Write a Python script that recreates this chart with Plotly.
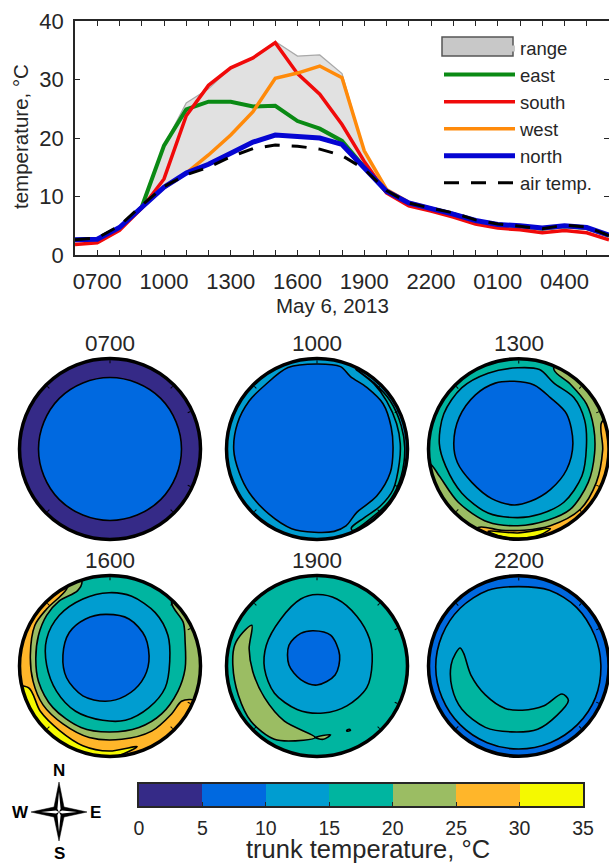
import numpy as np
import plotly.graph_objects as go

W, H = 609, 865

# ---------- time series (deg C), hourly from 0600 ----------
hours = list(range(6, 31))
east  = [2.6,2.7,4.6,8.2,18.7,24.9,26.2,26.2,25.4,25.5,22.9,21.6,19.5,15.0,10.8,8.8,7.9,7.0,5.8,5.2,4.9,4.5,4.9,4.6,3.3]
south = [1.8,2.1,4.2,8.0,13.0,23.8,29.0,32.0,33.7,36.3,31.0,27.5,22.3,16.0,10.6,8.4,7.5,6.5,5.3,4.6,4.3,3.8,4.2,3.8,2.6]
west  = [2.5,2.7,4.6,8.2,11.5,14.0,17.1,20.5,24.5,30.2,31.1,32.3,30.3,17.8,11.2,9.0,8.0,7.0,5.8,5.2,4.9,4.5,4.9,4.6,3.3]
north = [2.6,2.7,4.7,8.2,11.6,14.0,15.5,17.4,19.3,20.5,20.3,20.0,18.9,15.0,10.9,8.9,8.0,7.0,5.9,5.2,5.0,4.6,5.0,4.7,3.4]
air   = [2.6,2.9,5.0,8.5,11.7,13.7,15.0,16.8,18.2,18.8,18.6,18.1,17.0,14.7,11.0,8.9,8.0,7.2,6.0,5.3,4.9,4.5,5.1,4.8,3.3]
upper = [2.6,2.7,4.7,8.2,18.7,26.0,28.4,32.0,33.7,36.5,34.0,34.2,31.0,17.8,11.2,9.0,8.0,7.2,6.0,5.3,5.0,4.6,5.1,4.8,3.4]
hour_labels = {7:"0700",10:"1000",13:"1300",16:"1600",19:"1900",22:"2200",25:"0100",28:"0400"}

# ---------- temperature classes ----------
levels = [0,5,10,15,20,25,30,35]
class_colors = ["#352A87","#0069E0","#009DD0","#00B5A0","#9BBD63","#FFB62A","#F5F900"]
DARK, BLUE, SKY, TEAL, GREEN, ORANGE, YELLOW = class_colors

# ---------- trunk cross sections: (east, north) in % of trunk radius ----------
t0700_inner = [(0,79),(30,73),(56,56),(73,30),(79,0),(73,-30),(56,-56),(30,-73),(0,-79),(-30,-73),(-56,-56),(-73,-30),(-79,0),(-73,30),(-56,56),(-30,73)]

t1000_blue = [(0,94),(26,91),(37,80),(55,68),(73,50),(82,24),(84,-1),(81,-26),(66,-52),(44,-70),(32,-85),(19,-91),(-3,-92),(-28,-88),(-53,-72),(-75,-48),(-86,-26),(-92,-1),(-88,28),(-75,53),(-57,71),(-32,90)]
t1000_teal = [(43,88),(63,73),(81,53),(93,26),(97,1),(93,-30),(81,-56),(63,-74),(39,-90),(38,-87),(52,-76),(70,-63),(84,-45),(91,-15),(92,6),(88,28),(77,53),(63,72)]

t1300_blue = [(-5,75),(17,71),(35,57),(53,39),(60,6),(53,-23),(35,-45),(13,-58),(-5,-62),(-30,-55),(-52,-37),(-68,-15),(-72,6),(-66,35),(-48,60),(-26,73)]
t1300_sky = [(-1,90),(23,88),(39,73),(61,57),(73,32),(75,3),(70,-30),(50,-59),(24,-72),(-1,-76),(-34,-71),(-63,-49),(-81,-19),(-88,6),(-83,39),(-63,68),(-34,84)]
t1300_green = [(39,88),(57,72),(75,50),(83,24),(84,-5),(77,-37),(57,-67),(32,-79),(-1,-85),(-34,-81),(-67,-59),(-88,-30),(-99,-16),(-112,-20),(-88,-76),(0,-115),(88,-76),(115,0),(90,70),(45,105)]
t1300_orange = [(92,30),(93,-1),(86,-37),(68,-67),(35,-85),(6,-90),(-19,-90),(-45,-87),(-52,-100),(0,-115),(75,-92),(112,-20),(108,34)]
t1300_yellow = [(-34,-91),(-1,-93),(35,-88),(24,-95),(-1,-99),(-19,-97)]

t1600_blue = [(-5,57),(21,52),(39,32),(43,5),(35,-17),(17,-33),(-5,-39),(-30,-33),(-48,-13),(-52,12),(-45,37),(-27,52)]
t1600_sky = [(-1,81),(24,77),(50,59),(64,34),(66,5),(61,-24),(43,-46),(17,-60),(-8,-60),(-38,-50),(-59,-28),(-70,1),(-70,30),(-56,56),(-30,74)]
t1600_green = [(68,70),(81,48),(83,27),(83,-3),(75,-28),(57,-53),(32,-68),(-1,-73),(-32,-68),(-63,-46),(-79,-17),(-82,8),(-79,34),(-70,56),(-56,72),(-36,83),(-31,93),(-45,112),(-112,30),(-100,-72),(0,-118),(100,-72),(118,40),(78,92)]
t1600_orange = [(89,-37),(79,-39),(68,-53),(46,-72),(13,-81),(-23,-79),(-52,-64),(-74,-43),(-85,-17),(-88,12),(-83,45),(-70,63),(-48,85),(-44,102),(-112,42),(-108,-72),(0,-118),(92,-72),(104,-42)]
t1600_yellow = [(-90,-24),(-77,-50),(-56,-71),(-30,-88),(-1,-94),(30,-89),(10,-99),(-40,-110),(-92,-72),(-112,-24)]

t1900_sky = [(0,79),(22,74),(44,55),(58,30),(61,5),(55,-24),(33,-44),(7,-52),(-22,-48),(-47,-30),(-58,-3),(-56,23),(-40,52),(-18,74)]
t1900_blue = [(-4,39),(15,34),(25,12),(20,-10),(0,-21),(-18,-15),(-31,1),(-31,23),(-18,36)]
t1900_green = [(-72,45),(-75,19),(-71,-6),(-58,-35),(-36,-61),(-2,-79),(-15,-82),(-47,-81),(-73,-61),(-87,-32),(-93,1),(-91,23),(-82,37)]
t1900_tail = [(-2,-79),(15,-76),(7,-81)]
t1900_spot = [(33,-71),(36,-70),(37,-71),(33,-72)]

t2200_sky = [(0,88),(34,84),(64,65),(84,34),(91,1),(85,-35),(65,-65),(35,-85),(0,-92),(-35,-85),(-65,-65),(-85,-35),(-92,-1),(-85,34),(-65,64),(-34,84)]
t2200_teal = [(-65,20),(-61,14),(-53,-10),(-37,-32),(-15,-47),(4,-49),(28,-44),(48,-31),(55,-38),(42,-55),(21,-70),(-8,-73),(-37,-68),(-63,-48),(-74,-24),(-75,1),(-70,14)]

panels = [
    ("0700", DARK, [(BLUE, t0700_inner)]),
    ("1000", SKY,  [(BLUE, t1000_blue), (TEAL, t1000_teal)]),
    ("1300", TEAL, [(GREEN, t1300_green), (ORANGE, t1300_orange), (YELLOW, t1300_yellow), (SKY, t1300_sky), (BLUE, t1300_blue)]),
    ("1600", TEAL, [(GREEN, t1600_green), (ORANGE, t1600_orange), (YELLOW, t1600_yellow), (SKY, t1600_sky), (BLUE, t1600_blue)]),
    ("1900", TEAL, [(GREEN, t1900_green), (GREEN, t1900_tail), (GREEN, t1900_spot), (SKY, t1900_sky), (BLUE, t1900_blue)]),
    ("2200", BLUE, [(SKY, t2200_sky), (TEAL, t2200_teal)]),
]
compass_star = [(0,30),(5,5),(28,0),(5,-5),(0,-29),(-5,-5),(-28,0),(-5,5)]
compass_slits = [[(0,20),(1.6,3),(0,0),(-1.6,3)],[(0,-20),(1.6,-3),(0,0),(-1.6,-3)],[(18,0),(3,1.6),(0,0),(3,-1.6)],[(-18,0),(-3,1.6),(0,0),(-3,-1.6)]]

INK = "#262626"
FONT = "Liberation Sans"

def px(x): return x / W
def py(y): return 1 - y / H

fig = go.Figure()

# ---------- line chart ----------
fig.add_trace(go.Scatter(x=hours + hours[::-1], y=upper + north[::-1], fill="toself", fillcolor="#E1E1E1",
                         mode="lines", line=dict(color="#A8A8A8", width=1.2), showlegend=False))
fig.add_trace(go.Scatter(x=[None], y=[None], fill="toself", fillcolor="#C8C8C8", mode="lines",
                         line=dict(color="#C8C8C8", width=0), name="range", legendgroup="a"))
line_specs = [("east", east, "#0A8A14", 4), ("south", south, "#F00A0A", 3.5), ("west", west, "#FF8A0A", 3.5), ("north", north, "#0505D2", 5)]
for nm, vals, col, wd in line_specs:
    fig.add_trace(go.Scatter(x=hours, y=vals, mode="lines", line=dict(color=col, width=wd), name=nm, legendgroup=nm))
fig.add_trace(go.Scatter(x=hours, y=air, mode="lines", line=dict(color="black", width=3, dash="15px,12px"),
                         name="air temp.", legendgroup="air"))
fig.add_trace(go.Scatter(x=[None], y=[None], yaxis="y2", showlegend=False))

axis_common = dict(color=INK, linecolor=INK, tickcolor=INK, showgrid=False, zeroline=False)
fig.update_layout(
    xaxis=dict(domain=[px(75), 1], range=[6, 30], tickvals=hours, ticktext=[hour_labels.get(h, "") for h in hours],
               tickangle=0, ticks="inside", ticklen=5, mirror="ticks", showline=True, linewidth=1.5, ticklabelstandoff=6,
               tickfont=dict(size=22), anchor="y", **axis_common),
    yaxis=dict(domain=[py(255), py(21)], range=[0, 40], tickvals=[0,10,20,30,40], ticks="inside", ticklen=5, showline=True,
               linewidth=1.5, tickfont=dict(size=22), ticklabelstandoff=5, anchor="x", **axis_common),
    yaxis2=dict(domain=[py(255), py(21)], range=[0, 40], overlaying="y", side="right", anchor="x", tickvals=[10,20,30],
                ticktext=["","",""], ticks="inside", ticklen=5, showline=False, color=INK, tickcolor=INK, showgrid=False, zeroline=False),
)

annotations = [
    dict(text="May 6, 2013", x=px(332), y=py(305), font=dict(size=20.5, color=INK)),
    dict(text="temperature, °C", x=px(21), y=py(137), textangle=-90, font=dict(size=20.5, color=INK)),
    dict(text="trunk temperature, °C", x=px(368), y=py(849), font=dict(size=25.5, color=INK)),
]

# ---------- trunk panels ----------
centers = [(110,449),(317,449),(519,449),(110,666),(317,666),(519,666)]
half = 90.5
for i, ((label, base, layers), (cx, cy)) in enumerate(zip(panels, centers), start=1):
    key = "polar" if i == 1 else f"polar{i}"
    fig.update_layout({key: dict(
        domain=dict(x=[px(cx-half), min(px(cx+half), 1)], y=[py(cy+half), py(cy-half)]),
        bgcolor=base,
        radialaxis=dict(range=[0,100], visible=False),
        angularaxis=dict(rotation=90, direction="clockwise", tickvals=[0,45,65,115,135,225,315], ticktext=[""]*7,
                         ticks="inside", ticklen=3, tickcolor="black", linecolor="black", linewidth=3.5, showgrid=False),
    )})
    for col, pts in layers:
        a = np.array(pts + pts[:1], dtype=float)
        fig.add_trace(go.Scatterpolar(
            r=np.hypot(a[:,0], a[:,1]), theta=np.degrees(np.arctan2(a[:,0], a[:,1])) % 360,
            mode="lines", fill="toself", fillcolor=col, line=dict(color="black", width=1.6, shape="spline", smoothing=0.9),
            subplot=key, showlegend=False))
    annotations.append(dict(text=label, x=px(cx), y=py(cy-106), font=dict(size=22.5, color=INK)))

# ---------- colour scale ----------
mids = [[(a+b)/2 for a, b in zip(levels[:-1], levels[1:])]]
cs = []
n = len(class_colors)
for k, c in enumerate(class_colors):
    cs += [[k/n, c], [(k+1)/n, c]]
fig.add_trace(go.Heatmap(x=levels, y=[0,1], z=mids, zmin=0, zmax=35, colorscale=cs, showscale=False, xaxis="x2", yaxis="y3"))
fig.update_layout(
    xaxis2=dict(domain=[px(139), px(583)], range=[0,35], tickvals=levels, ticks="inside", ticklen=4, mirror=True, showline=True,
                linewidth=1.5, tickfont=dict(size=19.5), ticklabelstandoff=4, anchor="y3", **axis_common),
    yaxis3=dict(domain=[py(806), py(784)], range=[0,1], showticklabels=False, ticks="", mirror=True, showline=True, linewidth=1.5,
                anchor="x2", **axis_common),
)

# ---------- compass ----------
star = np.array(compass_star + compass_star[:1])
fig.add_trace(go.Scatter(x=star[:,0], y=star[:,1], mode="lines", fill="toself", fillcolor="black",
                         line=dict(color="black", width=0.5), xaxis="x3", yaxis="y4", showlegend=False))
for s in compass_slits:
    a = np.array(s + s[:1])
    fig.add_trace(go.Scatter(x=a[:,0], y=a[:,1], mode="lines", fill="toself", fillcolor="white",
                             line=dict(color="white", width=0), xaxis="x3", yaxis="y4", showlegend=False))
fig.update_layout(
    xaxis3=dict(domain=[px(29), px(89)], range=[-30,30], visible=False, anchor="y4"),
    yaxis4=dict(domain=[py(842), py(782)], range=[-30,30], visible=False, anchor="x3"),
)
for letter, x, y in [("N",59,770),("S",59,853),("W",20,812),("E",95,812)]:
    annotations.append(dict(text=f"<b>{letter}</b>", x=px(x), y=py(y), font=dict(size=17, color="black")))
for a in annotations:
    a.update(xref="paper", yref="paper", showarrow=False, xanchor="center", yanchor="middle")

fig.update_layout(
    width=W, height=H, margin=dict(l=0, r=0, t=0, b=0, autoexpand=False), paper_bgcolor="white", plot_bgcolor="white",
    font=dict(family=FONT, color=INK), annotations=annotations,
    legend=dict(x=px(439), y=py(29), xanchor="left", yanchor="top", font=dict(size=18.5), itemwidth=71,
                tracegroupgap=0, bgcolor="rgba(0,0,0,0)"),
    shapes=[dict(type="rect", xref="paper", yref="paper", x0=px(442), x1=px(513), y0=py(56), y1=py(37),
                 fillcolor="#C8C8C8", line=dict(color="#555555", width=1.5))],
)
fig.write_html("out.html", config={"displayModeBar": False},
               post_script="document.body.style.margin='0';document.body.style.overflow='hidden';")
